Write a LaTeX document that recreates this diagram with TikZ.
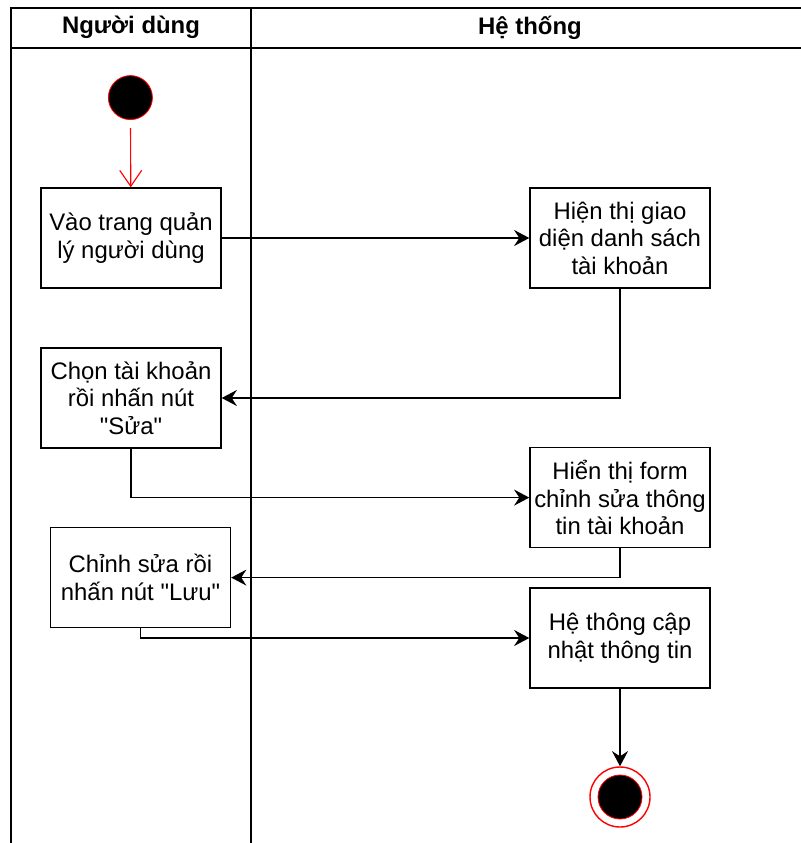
\documentclass[tikz,border=0pt]{standalone}
\usepackage{fontspec}
\setmainfont{Liberation Sans}
\usetikzlibrary{shapes,arrows.meta,positioning,calc}

\begin{document}
\begin{tikzpicture}[font=\fontsize{17}{19.6}\selectfont]
    % Kiểu
    \tikzstyle{action} = [rectangle, draw, line width=1pt, minimum width=4.5cm, minimum height=2.5cm, align=center, inner sep=2pt]
    \tikzstyle{lane} = [line width=1.3pt]
    \tikzstyle{lanetitle} = [font=\fontsize{17}{19.6}\selectfont\bfseries]
    \tikzstyle{flow} = [line width=1pt, -{Stealth[length=3.8mm, width=4mm, inset=1.3mm]}]

    \useasboundingbox (0,0) rectangle (20,-21.075);

    % Làn
    \draw[lane] (0.275,-21.5) -- (0.275,-0.2) -- (20.5,-0.2);
    \draw[lane] (0.275,-1.2) -- (20.5,-1.2);
    \draw[lane] (6.275,-0.2) -- (6.275,-21.5);
    \node[lanetitle] (userlane) at (3.275,-0.69) {Người dùng};
    \node[lanetitle] (syslane) at (13.25,-0.69) {Hệ thống};

    % Hoạt động
    \node[circle, fill=black, draw=red, line width=0.6pt, minimum size=1.1cm, inner sep=0pt] (start) at (3.26,-2.44) {};
    \node[action] (enter) at (3.275,-5.95) {Vào trang quản\\lý người dùng};
    \node[action] (list) at (15.5,-5.95) {Hiện thị giao\\diện danh sách\\tài khoản};
    \node[action] (choose) at (3.275,-9.95) {Chọn tài khoản\\rồi nhấn nút\\\textquotedbl Sửa\textquotedbl};
    \node[action] (form) at (15.5,-12.44) {Hiển thị form\\chỉnh sửa thông\\tin tài khoản};
    \node[action] (edit) at (3.5125,-14.44) {Chỉnh sửa rồi\\nhấn nút \textquotedbl Lưu\textquotedbl};
    \node[action] (update) at (15.5,-15.95) {Hệ thông cập\\nhật thông tin};
    \node[circle, draw=red, line width=1pt, minimum size=1.5cm, inner sep=0pt] (end) at (15.5,-19.925) {};
    \node[circle, fill=black, draw=red, line width=0.6pt, minimum size=1.1cm, inner sep=0pt] (endin) at (end) {};

    % Luồng
    \draw[red, line width=0.8pt, -{Straight Barb[length=4mm, width=5.5mm]}, shorten <=0.2cm] (start) -- (enter);
    \draw[flow] (enter) -- (list);
    \draw[flow] (list.south) |- (choose.east);
    \draw[flow] (choose.south) |- (form.west);
    \draw[flow] (form.south) |- (edit.east);
    \draw[flow] (edit.south) |- (update.west);
    \draw[flow] (update) -- (end);
\end{tikzpicture}
\end{document}
